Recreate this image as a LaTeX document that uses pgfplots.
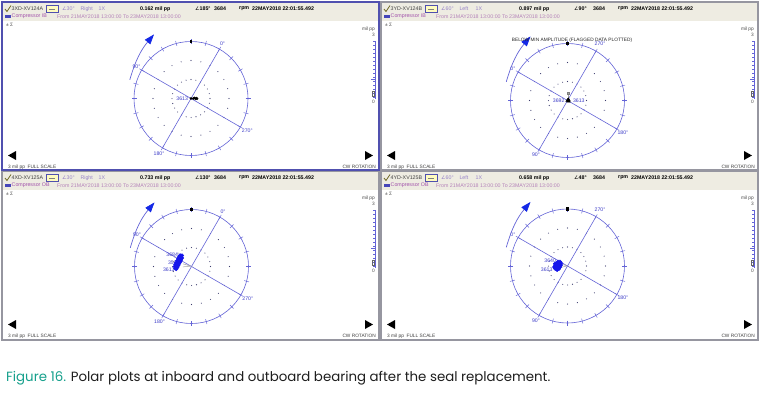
\documentclass[border=0pt]{standalone}
\usepackage{pgfplots}
\pgfplotsset{compat=1.18}
\usepackage{fontspec}
\setmainfont{Liberation Sans}
\newfontfamily\capfont{Poppins}
\newfontfamily\dvfont{DejaVu Sans}
\usetikzlibrary{arrows.meta}
\definecolor{pblue}{RGB}{100,100,215}
\definecolor{ptext}{RGB}{60,60,200}
\definecolor{hdrbg}{RGB}{238,236,226}
\definecolor{figteal}{RGB}{22,160,140}
\definecolor{lav}{RGB}{150,130,200}
\definecolor{compc}{RGB}{160,80,170}
\definecolor{datec}{RGB}{180,130,185}
\definecolor{capgray}{RGB}{30,30,30}
\definecolor{selblue}{RGB}{80,80,175}
\definecolor{frameg}{RGB}{150,150,160}
\definecolor{dotc}{RGB}{60,60,110}
\definecolor{arrowblue}{RGB}{20,40,230}
\definecolor{blobblue}{RGB}{20,20,235}
\newcommand{\hfont}{\fontsize{5.3}{6}\selectfont}
\newcommand{\sfont}{\fontsize{4.8}{5.5}\selectfont}
\newcommand{\lfont}{\fontsize{5.2}{6}\selectfont}
\newcommand{\mach}{IB}
% #1 ox, #2 oy, #3 W, #4 H, #5 border colour, #6 tag, #7 probe angle+side, #8 amplitude, #9 phase
\newcommand{\panel}[9]{%
 \begin{scope}[shift={(#1,#2)}]
  \fill[hdrbg] (1,1) rectangle (#3-1,18.5);
  % row 1
  \draw[olive!70!black, line width=0.8bp] (3,7) -- (5,9.5) -- (9,3.5);
  \node[anchor=west, inner sep=0, font=\hfont, text=black!75] at (9.5,7) {#6};
  \draw[selblue, fill=yellow!25, line width=0.6bp] (44,3.5) rectangle (56,10);
  \draw[gray, line width=0.5bp] (47,6.8) -- (53,6.8);
  \node[anchor=west, inner sep=0, font=\hfont, text=lav] at (60,7) {{\dvfont\fontsize{5}{6}\selectfont ∠}#7};
  \node[anchor=west, inner sep=0, font=\hfont\bfseries, text=black] at (138,7) {#8 mil pp};
  \node[anchor=west, inner sep=0, font=\hfont\bfseries, text=black] at (193,7) {{\dvfont\mdseries\fontsize{5}{6}\selectfont ∠}#9};
  \node[anchor=west, inner sep=0, font=\hfont\bfseries, text=black] at (212,7) {3684};
  \node[anchor=west, inner sep=0, font=\hfont\bfseries, text=black] at (237,7) {rpm};
  \node[anchor=west, inner sep=0, font=\hfont\bfseries, text=black] at (250,7) {22MAY2018 22:01:55.492};
  % row 2
  \fill[blue!45!gray] (3,12.5) rectangle (9,16);
  \node[anchor=west, inner sep=0, font=\hfont, text=compc] at (9.5,14.3) {Compressor \mach};
  \node[anchor=west, inner sep=0, font=\hfont, text=datec] at (55,14.3) {From 21MAY2018 13:00:00 To 23MAY2018 13:00:00};
  % row 3
  \node[anchor=west, inner sep=0, font=\sfont, text=black!70] at (4,22.5) {± Σ};
  % scale bar
  \node[anchor=east, inner sep=0, font=\sfont, text=black!70] at (#3-4,27.5) {mil pp};
  \node[anchor=east, inner sep=0, font=\sfont, text=black!70] at (#3-4,33) {3};
  \draw[pblue, line width=0.6bp] (#3-3.5,39) -- (#3-3.5,97);
  \foreach \t in {39,43,...,97} \draw[pblue, line width=0.4bp] (#3-3.5,\t) -- (#3-6,\t);
  \draw[pblue, line width=0.5bp] (#3-3.5,77) -- (#3-8,77);
  \draw[black!60, line width=0.4bp] (#3-7,89) rectangle (#3-4.5,94);
  \node[anchor=east, inner sep=0, font=\sfont, text=black!70] at (#3-4,100) {0};
  % footer
  \fill[black] (6,153.5) -- (14,149) -- (14,158) -- cycle;
  \fill[black] (#3-6,153.5) -- (#3-14,149) -- (#3-14,158) -- cycle;
  \node[anchor=west, inner sep=0, font=\sfont, text=black!75] at (6,165) {3 mil pp\ \ FULL SCALE};
  \node[anchor=east, inner sep=0, font=\sfont, text=black!75] at (#3-3,165) {CW ROTATION};
  \draw[#5, line width=1.1bp] (0,0) rectangle (#3,#4);
 \end{scope}}
% #1 cx, #2 cy, #3 math angle of 0 deg
\newcommand{\polarframe}[3]{%
 \begin{scope}[shift={(#1,#2)}]
  \draw[pblue, line width=0.6bp] (0,0) circle[radius=57bp];
  \foreach \a in {0,15,...,345} \draw[pblue, line width=0.45bp] (\a:54.5bp) -- (\a:59.5bp);
  \draw[dotc, line width=1.1bp, line cap=round, dash pattern=on 0bp off 4.974bp] (0,0) circle[radius=19bp];
  \draw[dotc, line width=1.1bp, line cap=round, dash pattern=on 0bp off 9.948bp] (0,0) circle[radius=38bp];
  \draw[pblue, line width=0.6bp] ({#3}:57bp) -- ({#3+180}:57bp);
  \draw[pblue, line width=0.6bp] ({#3+90}:57bp) -- ({#3+270}:57bp);
  \node[text=ptext, font=\lfont, inner sep=0] at ({#3}:63bp) {0°};
  \node[text=ptext, font=\lfont, inner sep=0] at ({#3+90}:63bp) {90°};
  \node[text=ptext, font=\lfont, inner sep=0] at ({#3+180}:64bp) {180°};
  \node[text=ptext, font=\lfont, inner sep=0] at ({#3+270}:65bp) {270°};
  \fill[black] (90:57bp) +(-1.3bp,-1.6bp) rectangle +(1.3bp,1.6bp);
  \draw[pblue, line width=0.7bp, -{Triangle[length=10bp,width=7bp,color=arrowblue]}] (163:64bp) to[bend left=12] (120:74bp);
 \end{scope}}
\pgfplotsset{polardata/.style={width=136.8bp, height=136.8bp, scale only axis,
  xmin=-3.6, xmax=3.6, ymin=-3.6, ymax=3.6, hide axis, clip=false, anchor=center}}
\begin{document}
\begin{tikzpicture}[x=1bp, y=-1bp]
\path[use as bounding box] (0,0) rectangle (760,402);
\fill[white] (0,0) rectangle (760,402);
% panels
\renewcommand{\mach}{IB}
\panel{381}{2}{377}{168}{frameg}{3YD-XV124B}{60°\ \ \ \ Left\ \ \ \ \ 1X}{0.897}{90°}
\renewcommand{\mach}{OB}
\panel{2}{171}{377}{169}{frameg}{4XD-XV125A}{30°\ \ \ \ Right\ \ \ \ 1X}{0.733}{130°}
\panel{381}{171}{377}{169}{frameg}{4YD-XV125B}{60°\ \ \ \ Left\ \ \ \ \ 1X}{0.658}{48°}
\renewcommand{\mach}{IB}
\panel{2}{2}{377}{168}{selblue}{3XD-XV124A}{30°\ \ \ \ Right\ \ \ \ 1X}{0.162}{185°}
% polar frames
\polarframe{191}{98.5}{60}
\polarframe{567.5}{100.5}{150}
\polarframe{191.5}{266.5}{60}
\polarframe{567.5}{266}{150}
\node[font=\sfont, text=black!85, inner sep=0] at (572,40) {BELOW MIN AMPLITUDE (FLAGGED DATA PLOTTED)};
% ---- data: top left (3XD-XV124A)
\begin{axis}[polardata, at={(191bp,-98.5bp)}]
\addplot[gray!70, line width=0.5bp] coordinates {(0,0) (0.3,0.03)};
\addplot[only marks, mark=*, mark size=1.1pt, black] coordinates {
 (0.0,0.0) (0.12,0.0) (0.18,0.03) (0.24,-0.02) (0.28,0.02) (0.32,-0.01)};
\node[anchor=east, inner sep=0, font=\lfont, text=ptext] at (axis cs:-0.15,-0.03) {3613};
\end{axis}
% ---- data: top right (3YD-XV124B)
\begin{axis}[polardata, at={(567.5bp,-100.5bp)}]
\addplot[gray!70, line width=0.5bp] coordinates {(0.05,0.05) (0.05,0.38)};
\addplot[only marks, mark=square, mark size=0.9pt, gray] coordinates {(0.05,0.38)};
\addplot[only marks, mark=triangle*, mark size=2pt, black] coordinates {
 (0.0,0.0) (0.05,0.04) (0.06,-0.03)};
\node[anchor=east, inner sep=0, font=\lfont, text=ptext] at (axis cs:-0.15,-0.02) {3692};
\node[anchor=west, inner sep=0, font=\lfont, text=ptext] at (axis cs:0.28,-0.02) {3613};
\end{axis}
% ---- data: bottom left (4XD-XV125A)
\begin{axis}[polardata, at={(191.5bp,-266.5bp)}]
\addplot[gray!70, line width=0.5bp] coordinates {(-0.45,0.14) (-0.02,0.02) (-0.45,-0.02)};
\addplot[only marks, mark=*, mark size=1.9pt, blobblue] coordinates {
 (-0.5,0.58) (-0.6,0.58) (-0.55,0.5) (-0.65,0.5) (-0.5,0.45) (-0.6,0.4) (-0.7,0.4)
 (-0.55,0.35) (-0.65,0.3) (-0.75,0.3) (-0.6,0.25) (-0.7,0.2) (-0.8,0.2) (-0.65,0.15)
 (-0.75,0.1) (-0.85,0.1) (-0.7,0.05) (-0.8,0.0) (-0.88,0.0) (-0.75,-0.05) (-0.85,-0.1)
 (-0.8,-0.13)};
\node[anchor=east, inner sep=0, font=\lfont, text=ptext] at (axis cs:-0.7,0.62) {3684};
\node[anchor=east, inner sep=0, font=\lfont, text=ptext] at (axis cs:-0.62,0.22) {3585};
\node[anchor=east, inner sep=0, font=\lfont, text=ptext] at (axis cs:-0.88,-0.17) {3613};
\end{axis}
% ---- data: bottom right (4YD-XV125B)
\begin{axis}[polardata, at={(567.5bp,-266bp)}]
\addplot[gray!70, line width=0.5bp] coordinates {(-0.3,0.1) (-0.02,0.0) (-0.3,-0.06)};
\addplot[only marks, mark=*, mark size=1.9pt, blobblue] coordinates {
 (-0.4,0.22) (-0.5,0.22) (-0.35,0.15) (-0.45,0.15) (-0.55,0.15) (-0.65,0.12)
 (-0.35,0.05) (-0.45,0.05) (-0.55,0.05) (-0.65,0.05) (-0.4,-0.05) (-0.5,-0.05)
 (-0.6,-0.05) (-0.7,-0.05) (-0.45,-0.14) (-0.55,-0.15) (-0.65,-0.14) (-0.55,-0.2)};
\node[anchor=east, inner sep=0, font=\lfont, text=ptext] at (axis cs:-0.6,0.26) {3640};
\node[anchor=east, inner sep=0, font=\lfont, text=ptext] at (axis cs:-0.78,-0.17) {3613};
\end{axis}
% caption
\node[anchor=west, inner sep=0, font=\capfont\fontsize{13.4}{15}\selectfont, text=capgray] at (6,378)
 {\textcolor{figteal}{Figure 16.} Polar plots at inboard and outboard bearing after the seal replacement.};
\end{tikzpicture}
\end{document}
